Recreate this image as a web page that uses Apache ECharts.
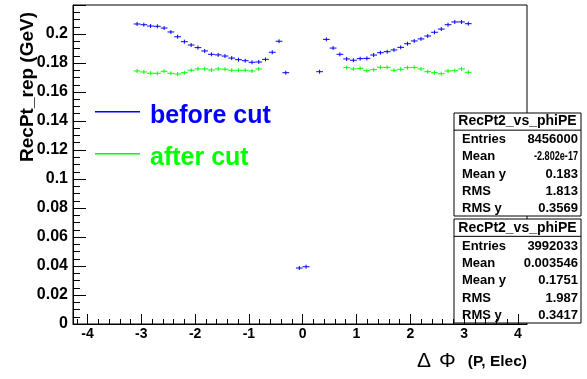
<!DOCTYPE html>
<html>
<head>
<meta charset="utf-8">
<script src="https://cdn.jsdelivr.net/npm/echarts@6/dist/echarts.min.js"></script>
<style>
  html, body { margin: 0; padding: 0; background: #fff; }
  #chart { width: 587px; height: 379px; }
</style>
</head>
<body>
<div id="chart"></div>
<script>
// ΔΦ binning of the profile: 50 equal bins over [-π, π]
const phiBinCount = 50;
const phiLow = -Math.PI;
const phiHigh = Math.PI;

// Mean RecPt_rep (GeV) per ΔΦ bin; null marks an empty bin
const beforeCut = [
  0.2069, 0.2064, 0.2055, 0.2053, 0.2041, 0.2014, 0.1981, 0.1947, 0.1924, 0.1906,
  0.1883, 0.1860, 0.1856, 0.1848, 0.1834, 0.1823, 0.1816, 0.1805, 0.1807, 0.1825,
  0.1874, 0.1950, 0.1733, null,   0.0386, 0.0395, null,   0.1740, 0.1963, 0.1903,
  0.1860, 0.1828, 0.1819, 0.1830, 0.1832, 0.1855, 0.1871, 0.1878, 0.1890, 0.1908,
  0.1933, 0.1952, 0.1966, 0.1986, 0.2012, 0.2034, 0.2064, 0.2083, 0.2083, 0.2071
];
const afterCut = [
  0.1745, 0.1738, 0.1729, 0.1729, 0.1743, 0.1729, 0.1724, 0.1733, 0.1750, 0.1759,
  0.1759, 0.1752, 0.1759, 0.1757, 0.1750, 0.1750, 0.1750, 0.1745, 0.1759, null,
  null,   null,   null,   null,   null,   null,   null,   null,   null,   null,
  null,   0.1768, 0.1759, 0.1763, 0.1747, 0.1754, 0.1770, 0.1770, 0.1750, 0.1757,
  0.1768, 0.1770, 0.1759, 0.1740, 0.1733, 0.1726, 0.1745, 0.1747, 0.1759, 0.1736
];

const seriesNames = ['before cut', 'after cut'];

// Axis tick labels
const xTickValues = [-4, -3, -2, -1, 0, 1, 2, 3, 4];
const yTickValues = [0, 0.02, 0.04, 0.06, 0.08, 0.1, 0.12, 0.14, 0.16, 0.18, 0.2];

// Statistics boxes
const statsTitle = 'RecPt2_vs_phiPE';
const statsLabels = ['Entries', 'Mean', 'Mean y', 'RMS', 'RMS y'];
const statsBefore = ['8456000', '-2.802e-17', '0.183', '1.813', '0.3569'];
const statsAfter = ['3992033', '0.003546', '0.1751', '1.987', '0.3417'];

const FONT = "'Liberation Sans', Arial, Helvetica, sans-serif";
const BLUE = '#0000ff';
const GREEN = '#00ff00';

const binWidth = (phiHigh - phiLow) / phiBinCount;
function toPoints(values) {
  const pts = [];
  values.forEach((v, i) => {
    if (v !== null) pts.push([phiLow + (i + 0.5) * binWidth, v]);
  });
  return pts;
}

// minor ticks on x: every 0.2 between the labelled integers
const xMinorTicks = [];
for (let k = -21; k <= 20; k++) {
  if (k % 5 !== 0) xMinorTicks.push(+(k * 0.2).toFixed(1));
}

// one profile bin: horizontal bar over the bin width plus a short error tick
function renderBin(params, api) {
  const p = api.coord([api.value(0), api.value(1)]);
  const half = api.size([binWidth, 0])[0] / 2;
  const color = api.visual('color');
  return {
    type: 'group',
    children: [
      { type: 'line', shape: { x1: p[0] - half, y1: p[1], x2: p[0] + half, y2: p[1] },
        style: { stroke: color, lineWidth: 1 } },
      { type: 'line', shape: { x1: p[0], y1: p[1] - 2, x2: p[0], y2: p[1] + 2 },
        style: { stroke: color, lineWidth: 1 } }
    ]
  };
}

// ROOT-style statistics panel
function statsBox(top, height, values) {
  const left = 454, width = 127;
  const rowH = height / 6;
  const children = [
    { type: 'rect', shape: { x: left, y: top, width: width, height: height },
      style: { fill: '#fff', stroke: '#000', lineWidth: 1 } },
    { type: 'line', shape: { x1: left, y1: top + rowH, x2: left + width, y2: top + rowH },
      style: { stroke: '#000', lineWidth: 1 } },
    { type: 'text', x: left + width / 2, y: top + rowH / 2,
      style: { text: statsTitle, font: 'bold 14px ' + FONT, fill: '#000',
               align: 'center', verticalAlign: 'middle' } }
  ];
  statsLabels.forEach((lab, i) => {
    const cy = top + rowH * (i + 1.5) + 1;
    children.push({ type: 'text', x: left + 8, y: cy,
      style: { text: lab, font: 'bold 13px ' + FONT, fill: '#000',
               align: 'left', verticalAlign: 'middle' } });
    const val = values[i];
    const squeeze = val.length > 8 ? 0.7 : 1;
    children.push({ type: 'text', x: left + width - 3, y: cy, scaleX: squeeze,
      style: { text: val, font: 'bold 13px ' + FONT, fill: '#000',
               align: 'right', verticalAlign: 'middle' } });
  });
  return { type: 'group', z: 100, children: children };
}

// legend entry: short line sample followed by the coloured label
function legendEntry(lineY, label, color) {
  return {
    type: 'group', z: 90,
    children: [
      { type: 'rect', shape: { x: 95, y: lineY, width: 45, height: 1.4 },
        style: { fill: color, stroke: null } },
      { type: 'text', x: 150, y: lineY + 5.5,
        style: { text: label, font: 'bold 25px ' + FONT, fill: color,
                 align: 'left', verticalAlign: 'middle' } }
    ]
  };
}

const chart = echarts.init(document.getElementById('chart'), null, { renderer: 'canvas' });

const gridRect = { left: 73, right: 60, top: 5, bottom: 55 };

chart.setOption({
  animation: false,
  backgroundColor: '#fff',
  textStyle: { fontFamily: FONT },
  grid: [
    Object.assign({ show: true, borderColor: '#000', borderWidth: 1, backgroundColor: '#fff',
                    outerBoundsMode: 'none' }, gridRect),
    Object.assign({ show: false, outerBoundsMode: 'none' }, gridRect)
  ],
  xAxis: [
    {
      type: 'value', gridIndex: 0, min: -4.27, max: 4.17,
      axisLine: { show: true, onZero: false, lineStyle: { color: '#000', width: 1 } },
      axisTick: { show: true, inside: true, length: 10, customValues: xTickValues,
                  lineStyle: { color: '#000', width: 1 } },
      axisLabel: { customValues: xTickValues, color: '#000', fontSize: 14, fontWeight: 'bold',
                   fontFamily: FONT, margin: 3 },
      splitLine: { show: false },
      name: '{d|Δ}{f|Φ}{b|(P, Elec)}',
      nameLocation: 'end', nameGap: 0,
      nameTextStyle: {
        align: 'right', verticalAlign: 'top', padding: [27, 0, 0, 0],
        rich: {
          d: { fontSize: 21, fontFamily: FONT, color: '#000', padding: [0, 8, 0, 0] },
          f: { fontSize: 21, fontFamily: FONT, color: '#000', padding: [0, 12, 0, 0] },
          b: { fontSize: 15.5, fontWeight: 'bold', fontFamily: FONT, color: '#000' }
        }
      }
    },
    {
      type: 'value', gridIndex: 1, min: -4.27, max: 4.17,
      axisLine: { show: false },
      axisTick: { show: true, inside: true, length: 5, customValues: xMinorTicks,
                  lineStyle: { color: '#000', width: 1 } },
      axisLabel: { show: false },
      splitLine: { show: false }
    }
  ],
  yAxis: [
    {
      type: 'value', gridIndex: 0, min: 0, max: 0.22, interval: 0.02,
      axisLine: { show: true, onZero: false, lineStyle: { color: '#000', width: 1 } },
      axisTick: { show: true, inside: true, length: 13, lineStyle: { color: '#000', width: 1 } },
      minorTick: { show: true, splitNumber: 4, length: 7, lineStyle: { color: '#000', width: 1 } },
      axisLabel: { customValues: yTickValues, color: '#000', fontSize: 16, fontWeight: 'bold',
                   fontFamily: FONT, margin: 5 },
      splitLine: { show: false },
      minorSplitLine: { show: false }
    },
    { type: 'value', gridIndex: 1, min: 0, max: 0.22, show: false }
  ],
  series: [
    { name: seriesNames[0], type: 'custom', xAxisIndex: 0, yAxisIndex: 0, clip: true,
      itemStyle: { color: BLUE }, renderItem: renderBin, data: toPoints(beforeCut), z: 3 },
    { name: seriesNames[1], type: 'custom', xAxisIndex: 0, yAxisIndex: 0, clip: true,
      itemStyle: { color: GREEN }, renderItem: renderBin, data: toPoints(afterCut), z: 3 }
  ],
  graphic: [
    { type: 'text', x: 28, y: 12, rotation: Math.PI / 2,
      style: { text: 'RecPt_rep (GeV)', font: 'bold 19px ' + FONT, fill: '#000',
               align: 'right', verticalAlign: 'middle' } },
    legendEntry(111, seriesNames[0], BLUE),
    legendEntry(153, seriesNames[1], GREEN),
    statsBox(113, 103, statsBefore),
    statsBox(219, 104, statsAfter)
  ]
});
</script>
</body>
</html>
